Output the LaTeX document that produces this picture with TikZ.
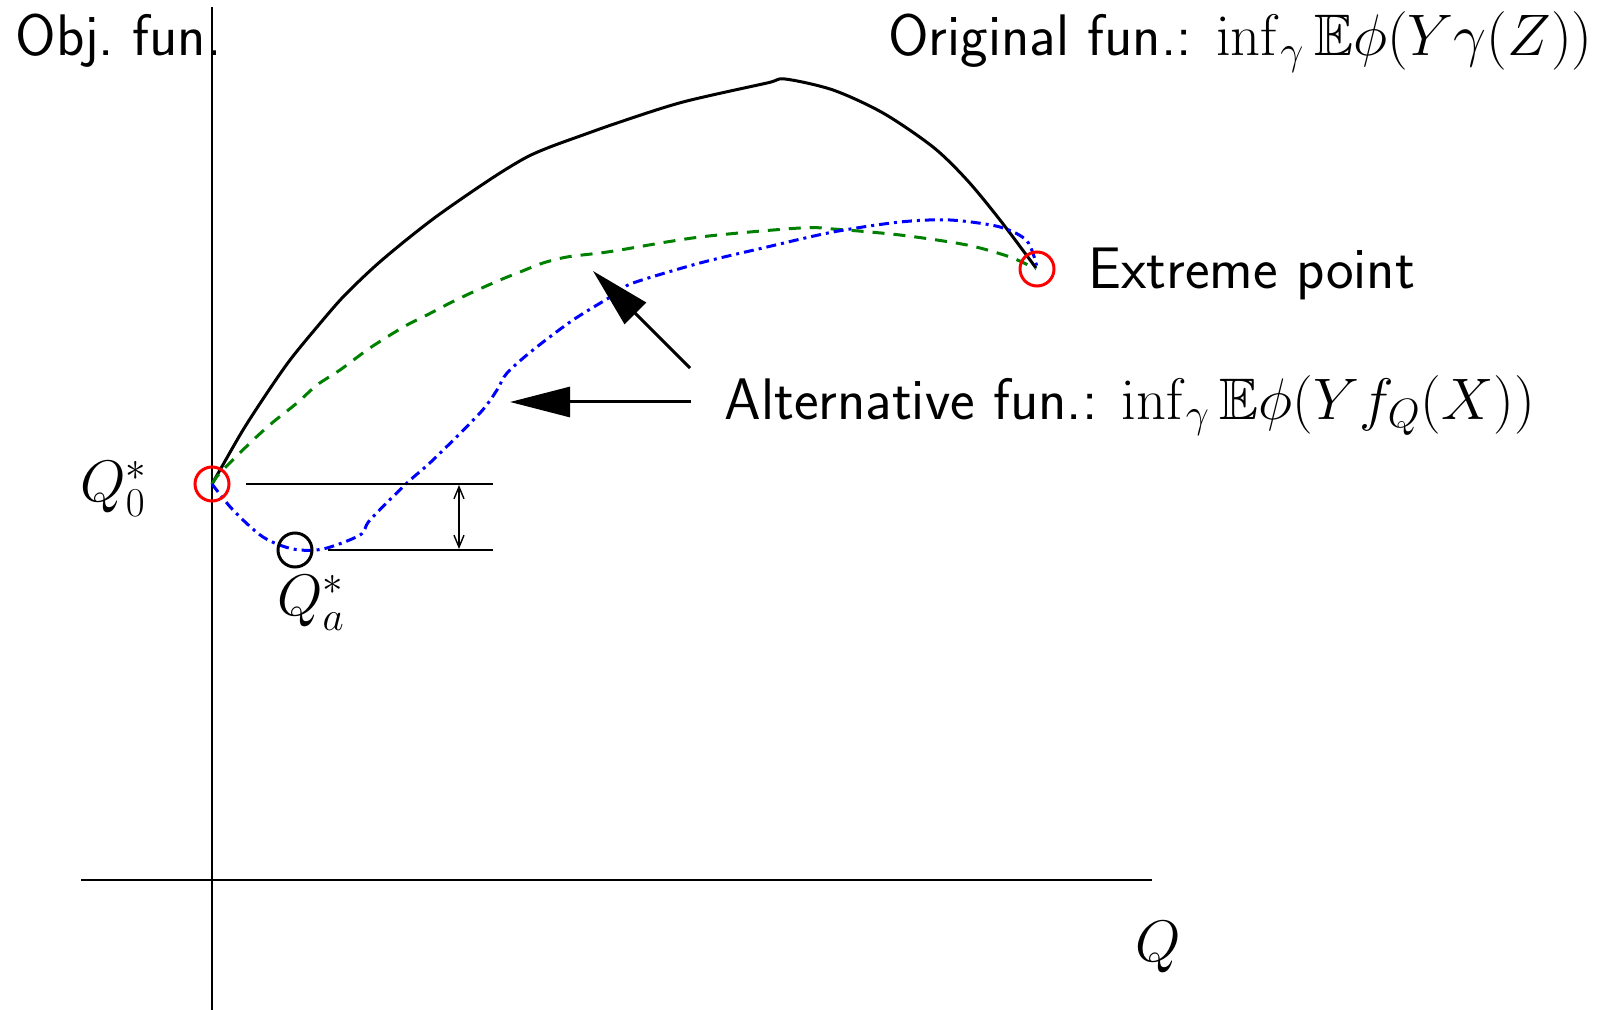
\RequirePackage{fix-cm}
\documentclass[tikz,border=0pt]{standalone}
\usepackage{amssymb}
\DeclareFontFamily{U}{msb}{}
\DeclareFontShape{U}{msb}{m}{n}{<-6> msbm5 <6-8> msbm7 <8-> msbm10}{}
\usetikzlibrary{arrows.meta}
\begin{document}
\begin{tikzpicture}[x=0.5pt,y=-0.5pt,
  lbl/.style={inner sep=0pt,font=\fontsize{29.3}{34}\selectfont\sffamily},
  axisline/.style={line width=0.8pt,black},
  thinline/.style={line width=0.7pt,black},
  ring/.style={circle,draw,line width=1.5pt,minimum size=17pt,inner sep=0pt},
  curveA/.style={line width=1.5pt,black},
  curveB/.style={line width=1.5pt,green!50!black,dash pattern=on 6pt off 4.5pt},
  curveC/.style={line width=1.5pt,blue,dash pattern=on 5pt off 2.5pt on 1.5pt off 2.5pt},
  bigarrow/.style={line width=1.5pt,-{Triangle[length=30pt,width=15pt]}}
]
\useasboundingbox (0,0) rectangle (1600,1010);
% axes
\coordinate (ytop) at (212,7);
\coordinate (ybot) at (212,1010);
\coordinate (xl) at (81,880);
\coordinate (xr) at (1152,880);
\draw[axisline] (ytop) -- (ybot);
\draw[axisline] (xl) -- (xr);
% labels
\node[lbl,anchor=base west] (objfun) at (15,56) {Obj.\ fun.};
\node[lbl,anchor=base east] (orig) at (1593,56) {Original fun.: $\inf_\gamma \mathbb{E}\phi(Y\gamma(Z))$};
\node[lbl,anchor=base west] (extreme) at (1088,289) {Extreme point};
\node[lbl,anchor=base west] (alt) at (724,419) {Alternative fun.: $\inf_\gamma \mathbb{E}\phi(Y f_Q(X))$};
\node[lbl] (qlab) at (1158,947) {$Q$};
\node[lbl] (q0lab) at (114,489) {$Q_0^*$};
\node[lbl] (qalab) at (311,603) {$Q_a^*$};
% curves
\draw[curveA] plot[smooth,tension=0.5] coordinates {(212,484) (220,470) (243,430) (267,393) (290,360) (317,327) (343,297) (373,268) (400,245) (433,219) (467,195) (500,173) (527,157) (550,147) (583,135) (620,122) (683,102) (767,83) (785,79) (833,90) (883,113) (933,147) (967,180) (1000,220) (1036,268)};
\draw[curveB] plot[smooth,tension=0.5] coordinates {(212,484) (220,473) (250,443) (272,423) (297,403) (317,385) (340,370) (367,350) (387,337) (407,325) (427,315) (450,303) (473,292) (500,280) (520,272) (543,263) (567,257) (600,253) (620,250) (700,237) (800,228) (833,229) (900,235) (967,245) (1010,257) (1036,269)};
\draw[curveC] plot[smooth,tension=0.5] coordinates {(212,484) (233,510) (263,537) (293,549) (323,549) (360,535) (370,520) (407,483) (433,460) (480,413) (497,390) (507,373) (533,350) (573,320) (617,293) (633,283) (700,263) (767,247) (833,232) (900,222) (950,220) (1000,227) (1027,241) (1037,267)};
% markers
\node[ring,red] (q0) at (212,484) {};
\node[ring,black] (qa) at (295,550) {};
\node[ring,red] (ext) at (1037,269) {};
% gap lines
\coordinate (h1a) at (246,484);
\coordinate (h1b) at (493,484);
\coordinate (h2a) at (328,550);
\coordinate (h2b) at (493,550);
\draw[thinline] (h1a) -- (h1b);
\draw[thinline] (h2a) -- (h2b);
\coordinate (d1) at (459,485);
\coordinate (d2) at (459,549);
\draw[thinline,{Straight Barb[length=6pt,width=5pt]}-{Straight Barb[length=6pt,width=5pt]}] (d1) -- (d2);
% arrows
\coordinate (t1) at (690,368);
\coordinate (p1) at (593,271);
\coordinate (t2) at (691,402);
\coordinate (p2) at (510,402);
\draw[bigarrow] (t1) -- (p1);
\draw[bigarrow] (t2) -- (p2);
\end{tikzpicture}
\end{document}
